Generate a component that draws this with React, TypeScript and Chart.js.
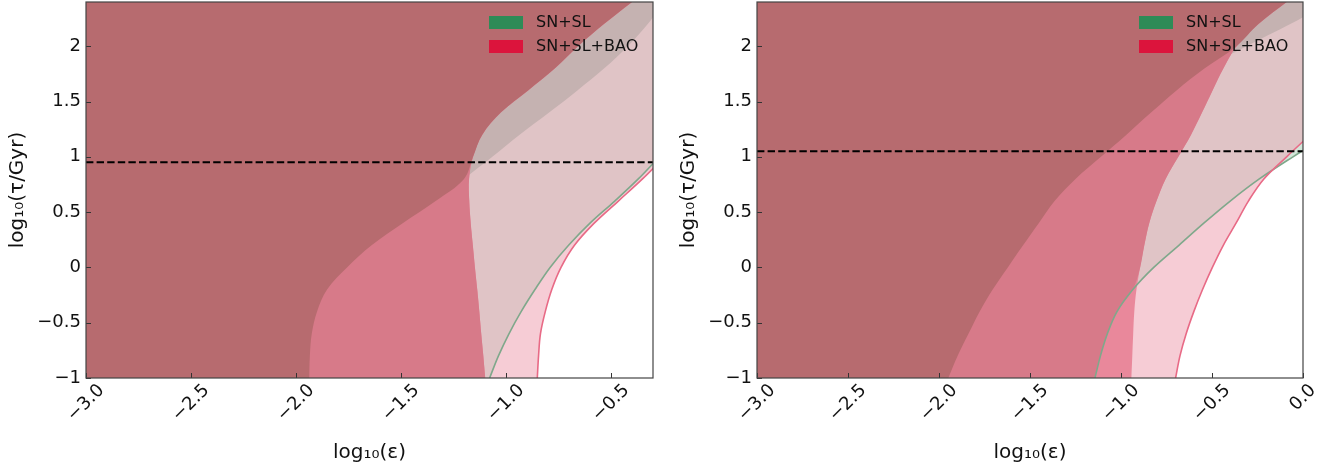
import React, { useEffect, useRef } from 'react';
import { Chart, registerables } from 'chart.js';

Chart.register(...registerables);

// ---------- data (x = log10(eps) read at each log10(tau) grid value) ----------
const Y_GRID = [-1.0, -0.8, -0.6, -0.4, -0.2, 0.0, 0.2, 0.4, 0.6, 0.8, 1.0, 1.2, 1.4, 1.6, 1.8, 2.0, 2.2, 2.4];

// Left panel
const LEFT_BAO_OUTER = [-0.851, -0.845, -0.836, -0.813, -0.782, -0.738, -0.674, -0.58, -0.465, -0.35, -0.245, -0.14, -0.04, 0.06, 0.16, 0.26, 0.36, 0.46];
const LEFT_SNSL_OUTER = [-1.078, -1.036, -0.986, -0.928, -0.862, -0.79, -0.702, -0.6, -0.482, -0.37, -0.27, -0.17, -0.07, 0.03, 0.13, 0.23, 0.33, 0.43];
const LEFT_BAO_INNER = [-1.099, -1.108, -1.118, -1.127, -1.137, -1.148, -1.158, -1.168, -1.175, -1.176, -1.157, -1.113, -1.025, -0.895, -0.767, -0.657, -0.534, -0.4];
const LEFT_SNSL_INNER = [-1.937, -1.934, -1.925, -1.9, -1.852, -1.757, -1.64, -1.492, -1.335, -1.2, -1.065, -0.935, -0.795, -0.66, -0.532, -0.42, -0.325, -0.25];
const LEFT_TAU = 0.95;

// Right panel
const RIGHT_BAO_OUTER = [-0.7, -0.676, -0.642, -0.6, -0.552, -0.498, -0.438, -0.368, -0.3, -0.215, -0.09, 0.04, 0.17, 0.3, 0.43, 0.56, 0.69, 0.82];
const RIGHT_SNSL_OUTER = [-1.143, -1.113, -1.075, -1.022, -0.935, -0.82, -0.682, -0.545, -0.4, -0.24, -0.055, 0.14, 0.33, 0.52, 0.71, 0.9, 1.09, 1.28];
const RIGHT_BAO_INNER = [-0.943, -0.938, -0.933, -0.927, -0.915, -0.895, -0.872, -0.845, -0.805, -0.755, -0.685, -0.615, -0.555, -0.497, -0.437, -0.365, -0.245, -0.09];
const RIGHT_SNSL_INNER = [-1.949, -1.898, -1.838, -1.777, -1.705, -1.622, -1.538, -1.452, -1.365, -1.25, -1.11, -0.97, -0.835, -0.695, -0.54, -0.31, -0.07, 0.15];
const RIGHT_TAU = 1.05;

// Axes
const X_TICKS_LEFT = [-3.0, -2.5, -2.0, -1.5, -1.0, -0.5];
const X_TICKS_RIGHT = [-3.0, -2.5, -2.0, -1.5, -1.0, -0.5, 0.0];
const Y_TICKS = [-1, -0.5, 0, 0.5, 1, 1.5, 2];
const X_TITLE = 'log\u2081\u2080(\u03b5)';
const Y_TITLE = 'log\u2081\u2080(\u03c4/Gyr)';
const LEGEND_LABELS = ['SN+SL', 'SN+SL+BAO'];
const LEGEND_COLORS = ['#2e8b57', '#dc143c'];

// Region colours
const C_LIGHT_GREEN = '#d3e6d9';
const C_LIGHT_PINK = '#f6ccd5';
const C_GREY_PINK = '#e0c4c6';
const C_DARK_GREY = '#c5b2b1';
const C_BRIGHT_PINK = '#e9889b';
const C_MED_PINK = '#d77a89';
const C_DARK_BROWN = '#b76b6f';
const C_GREEN_LINE = '#7fa88b';
const C_RED_LINE = '#e86a86';

const FONT = '"DejaVu Sans", sans-serif';
const minus = (s: string) => s.replace('-', '\u2212');
const fmtX = (v: number) => minus(v.toFixed(1));
const fmtY = (v: number) => minus(String(v));
const minArr = (a: number[], b: number[]) => a.map((v, i) => Math.min(v, b[i]));
const TENSION = 0.35;

function fillSet(xs: number[], color: string, order: number, xMin: number) {
  return {
    data: Y_GRID.map((y, i) => ({ x: xs[i], y })),
    indexAxis: 'y',
    fill: { value: xMin },
    backgroundColor: color,
    borderWidth: 0,
    pointRadius: 0,
    tension: TENSION,
    order,
  };
}

function lineSet(xs: number[], color: string, order: number) {
  return {
    data: Y_GRID.map((y, i) => ({ x: xs[i], y })),
    indexAxis: 'y',
    fill: false,
    borderColor: color,
    borderWidth: 1.6,
    pointRadius: 0,
    tension: TENSION,
    order,
  };
}

type PanelCfg = {
  left: number;
  width: number;
  xMax: number;
  yAxisWidth: number;
  rightPad: number;
  yTitleX: number;
  xTicks: number[];
  baoOuter: number[];
  snslOuter: number[];
  baoInner: number[];
  snslInner: number[];
  tau: number;
};

function Panel({ cfg }: { cfg: PanelCfg }) {
  const ref = useRef<HTMLCanvasElement>(null);
  useEffect(() => {
    const xMin = -3;
    const datasets: any[] = [
      fillSet(cfg.snslOuter, C_LIGHT_GREEN, 100, xMin),
      fillSet(cfg.baoOuter, C_LIGHT_PINK, 90, xMin),
      fillSet(minArr(cfg.snslOuter, cfg.baoOuter), C_GREY_PINK, 80, xMin),
      fillSet(minArr(cfg.snslInner, cfg.baoOuter), C_DARK_GREY, 70, xMin),
      fillSet(cfg.baoInner, C_BRIGHT_PINK, 60, xMin),
      fillSet(minArr(cfg.baoInner, cfg.snslOuter), C_MED_PINK, 50, xMin),
      fillSet(minArr(cfg.baoInner, cfg.snslInner), C_DARK_BROWN, 40, xMin),
      lineSet(cfg.snslOuter, C_GREEN_LINE, 20),
      lineSet(cfg.baoOuter, C_RED_LINE, 10),
      {
        data: [
          { x: xMin, y: cfg.tau },
          { x: cfg.xMax, y: cfg.tau },
        ],
        borderColor: '#000',
        borderWidth: 2,
        borderDash: [7.4, 3.2],
        pointRadius: 0,
        fill: false,
        tension: 0,
        order: 0,
      },
    ];

    const decor = {
      id: 'decor',
      afterDraw(chart: any) {
        const { ctx, chartArea: a, scales } = chart;
        const xs = scales.x;
        const ys = scales.y;
        ctx.save();
        // inward ticks
        ctx.strokeStyle = '#333';
        ctx.lineWidth = 1;
        ctx.beginPath();
        for (const v of cfg.xTicks) {
          const p = Math.round(xs.getPixelForValue(v)) + 0.5;
          ctx.moveTo(p, a.bottom);
          ctx.lineTo(p, a.bottom - 5);
        }
        for (const v of Y_TICKS) {
          const p = Math.round(ys.getPixelForValue(v)) + 0.5;
          ctx.moveTo(a.left, p);
          ctx.lineTo(a.left + 5, p);
        }
        ctx.stroke();
        // frame
        ctx.strokeStyle = '#444';
        ctx.lineWidth = 1.2;
        ctx.strokeRect(a.left, a.top, a.right - a.left, a.bottom - a.top);
        // x tick labels (rotated 45, centred on tick)
        ctx.fillStyle = '#111';
        ctx.font = '18px ' + FONT;
        ctx.textAlign = 'center';
        ctx.textBaseline = 'middle';
        for (const v of cfg.xTicks) {
          const label = fmtX(v);
          const w = ctx.measureText(label).width;
          const cx = xs.getPixelForValue(v);
          const cy = a.bottom + 5 + (w + 13) / (2 * Math.SQRT2);
          ctx.save();
          ctx.translate(cx, cy);
          ctx.rotate(-Math.PI / 4);
          ctx.fillText(label, 0, 0);
          ctx.restore();
        }
        // axis titles
        ctx.font = '20px ' + FONT;
        ctx.fillText(X_TITLE, (a.left + a.right) / 2, 453);
        ctx.save();
        ctx.translate(cfg.yTitleX, (a.top + a.bottom) / 2);
        ctx.rotate(-Math.PI / 2);
        ctx.fillText(Y_TITLE, 0, 0);
        ctx.restore();
        // legend
        const lx = a.right - 164;
        ctx.font = '16px ' + FONT;
        ctx.textAlign = 'left';
        LEGEND_LABELS.forEach((lab, i) => {
          const top = a.top + 14 + i * 24;
          ctx.fillStyle = LEGEND_COLORS[i];
          ctx.fillRect(lx, top, 34, 13);
          ctx.fillStyle = '#111';
          ctx.fillText(lab, lx + 47, top + 7);
        });
        ctx.restore();
      },
    };

    const chart = new Chart(ref.current as HTMLCanvasElement, {
      type: 'line',
      data: { datasets },
      options: {
        animation: false,
        responsive: false,
        devicePixelRatio: 1,
        events: [],
        layout: { padding: { left: 0, right: cfg.rightPad, top: 2, bottom: 0 } },
        elements: { line: { capBezierPoints: false } as any },
        plugins: { legend: { display: false }, tooltip: { enabled: false } },
        scales: {
          x: {
            type: 'linear',
            min: xMin,
            max: cfg.xMax,
            grid: { display: false, drawTicks: false },
            border: { display: false },
            ticks: { display: false },
            afterFit: (s: any) => {
              s.height = 96;
              s.paddingLeft = 0;
              s.paddingRight = 0;
            },
          },
          y: {
            type: 'linear',
            min: -1,
            max: 2.4,
            grid: { display: false, drawTicks: false },
            border: { display: false },
            ticks: {
              color: '#111',
              padding: 5,
              font: { family: 'DejaVu Sans', size: 18 },
              callback: (v: any) => fmtY(Number(v)),
            },
            afterBuildTicks: (s: any) => {
              s.ticks = Y_TICKS.map((v) => ({ value: v }));
            },
            afterFit: (s: any) => {
              s.width = cfg.yAxisWidth;
              s.paddingTop = 0;
              s.paddingBottom = 0;
            },
          },
        },
      } as any,
      plugins: [decor],
    });
    return () => chart.destroy();
  }, []);
  return (
    <canvas
      ref={ref}
      width={cfg.width}
      height={474}
      style={{ position: 'absolute', left: cfg.left, top: 0, width: cfg.width, height: 474 }}
    />
  );
}

const LEFT_CFG: PanelCfg = {
  left: 0,
  width: 670,
  xMax: -0.3,
  yAxisWidth: 86,
  rightPad: 17,
  yTitleX: 18,
  xTicks: X_TICKS_LEFT,
  baoOuter: LEFT_BAO_OUTER,
  snslOuter: LEFT_SNSL_OUTER,
  baoInner: LEFT_BAO_INNER,
  snslInner: LEFT_SNSL_INNER,
  tau: LEFT_TAU,
};

const RIGHT_CFG: PanelCfg = {
  left: 670,
  width: 673,
  xMax: 0,
  yAxisWidth: 87,
  rightPad: 40,
  yTitleX: 18.5,
  xTicks: X_TICKS_RIGHT,
  baoOuter: RIGHT_BAO_OUTER,
  snslOuter: RIGHT_SNSL_OUTER,
  baoInner: RIGHT_BAO_INNER,
  snslInner: RIGHT_SNSL_INNER,
  tau: RIGHT_TAU,
};

export default function App() {
  return (
    <div style={{ position: 'absolute', left: 0, top: 0, width: 1343, height: 474, background: '#fff' }}>
      <Panel cfg={LEFT_CFG} />
      <Panel cfg={RIGHT_CFG} />
    </div>
  );
}
